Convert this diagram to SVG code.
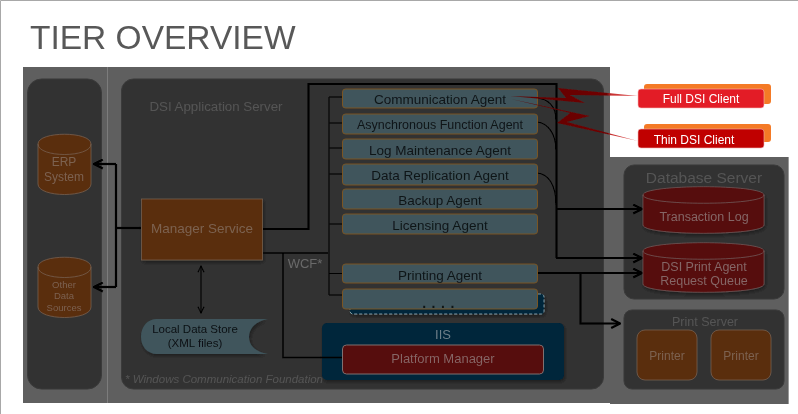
<svg xmlns="http://www.w3.org/2000/svg" width="798" height="414" viewBox="0 0 798 414">
<style>
text{font-family:"Liberation Sans",Arial,sans-serif;text-anchor:middle}
.panel{fill:#333333;stroke:#3a3a3a;stroke-width:1}
.agent{fill:#3f555c;stroke:#7a5424;stroke-width:1}
.agentT{font-size:13.5px;fill:#101518}
.brown{fill:#5a2d0e;stroke:#76604f;stroke-width:.8}
.dred{fill:#560808;stroke:#705858;stroke-width:.8}
.dim{fill:#555555}
.bt{fill:#7c6250}
.rt{fill:#856666}
.thick{fill:none;stroke:#000;stroke-width:2.2}
.thin{fill:none;stroke:#000;stroke-width:1.1}
</style>
<defs>
<marker id="ah" viewBox="0 0 10 10" refX="9" refY="5" markerWidth="5" markerHeight="5" orient="auto"><path d="M1 1L9 5L1 9" fill="none" stroke="#000" stroke-width="2"/></marker>
<marker id="as" viewBox="0 0 10 10" refX="9" refY="5" markerWidth="8" markerHeight="8" orient="auto-start-reverse"><path d="M2 1.5L9 5L2 8.500" fill="none" stroke="#000" stroke-width="1.2"/></marker>
<filter id="sh" x="-10%" y="-10%" width="125%" height="130%"><feDropShadow dx="1" dy="2" stdDeviation="2" flood-color="#000" flood-opacity=".45"/></filter>
<filter id="soft" x="0" y="0" width="100%" height="100%"><feGaussianBlur stdDeviation=".45"/></filter>
<linearGradient id="b1" x1="0" y1="0" x2="1" y2="0"><stop offset="0" stop-color="#5f0505"/><stop offset=".76" stop-color="#700505"/><stop offset=".79" stop-color="#c83030"/><stop offset="1" stop-color="#e06060"/></linearGradient>
</defs>
<g filter="url(#soft)">
<rect width="798" height="414" fill="#fff"/>
<path d="M0.500 414V0.500H798" fill="none" stroke="#a8a8a8"/>
<text x="30" y="49" style="text-anchor:start;font-size:33.500px;fill:#595959">TIER OVERVIEW</text>
<path d="M23 67H610V157H788V404H610V403H23Z" fill="#5e5e5e"/>
<path d="M788.500 157V404" stroke="#9a9a9a"/>
<path d="M107.500 67V403" stroke="#7c7c7c"/>
<g id="external-panel"><rect class="panel" x="27.500" y="79" width="74" height="310" rx="14"/></g>
<g id="app-server"><rect class="panel" x="121.500" y="79" width="482" height="310" rx="12"/>
<text x="216" y="111" class="dim" style="font-size:13.300px">DSI Application Server</text>
<text x="224" y="383" style="font-size:11.500px;font-style:italic;fill:#555555">* Windows Communication Foundation</text>
<text x="305" y="268" style="font-size:13px;fill:#6a6a6a">WCF*</text></g>
<g id="db-server"><rect class="panel" x="624" y="165" width="160" height="134" rx="10"/>
<text x="704" y="183" class="dim" style="font-size:15.500px">Database Server</text></g>
<g id="print-server"><rect class="panel" x="624" y="310" width="160" height="79" rx="8"/>
<text x="705" y="326" class="dim" style="font-size:12.500px">Print Server</text></g>
<g id="iis"><rect x="322" y="323" width="242" height="57" rx="5" fill="#00263a" filter="url(#sh)"/>
<text x="443" y="339" style="font-size:13px;fill:#6d7f89">IIS</text></g>
<g id="connectors">
<path class="thick" d="M141 228H116"/>
<path class="thick" d="M116 164V287"/>
<path class="thick" d="M116 164H94" marker-end="url(#ah)"/>
<path class="thick" d="M116 287H94" marker-end="url(#ah)"/>
<path class="thin" d="M201 266V313" marker-start="url(#as)" marker-end="url(#as)"/>
<path class="thick" d="M263 229H308.500V84H556.500V258"/>
<path class="thick" d="M556 209H642" marker-end="url(#ah)"/>
<path class="thick" d="M556 258H642" marker-end="url(#ah)"/>
<path class="thick" d="M537 273H642" marker-end="url(#ah)"/>
<path class="thick" d="M580.500 273V323.500H620" marker-end="url(#ah)"/>
<path class="thick" style="stroke-width:1.600" d="M263 253H328M283 253V357.500H342"/>
<path class="thin" d="M329 97V295M329 97H342M329 123H342M329 148H342M329 174H342M329 224H342M329 273.500H342M329 295H342"/>
<path class="thin" d="M537 98C548 99 556 106 556 120M537 122C548 123 556 134 556 150M537 173C548 174 556 184 556 205"/>
</g>
<g id="agent-more"><rect x="350" y="294" width="194" height="20" rx="3" fill="#00263a" stroke="#7f9aa5" stroke-dasharray="3 2" filter="url(#sh)"/></g>
<g id="agent-communication"><rect class="agent" x="342.500" y="89" width="195" height="19" rx="3"/><text class="agentT" x="440" y="104">Communication Agent</text></g>
<g id="agent-async"><rect class="agent" x="342.500" y="114" width="195" height="20" rx="3"/><text class="agentT" style="font-size:12.500px" x="440" y="129">Asynchronous Function Agent</text></g>
<g id="agent-log"><rect class="agent" x="342.500" y="139" width="195" height="20" rx="3"/><text class="agentT" x="440" y="155">Log Maintenance Agent</text></g>
<g id="agent-replication"><rect class="agent" x="342.500" y="164" width="195" height="21" rx="3"/><text class="agentT" x="440" y="180">Data Replication Agent</text></g>
<g id="agent-backup"><rect class="agent" x="342.500" y="189" width="195" height="20" rx="3"/><text class="agentT" x="440" y="205">Backup Agent</text></g>
<g id="agent-licensing"><rect class="agent" x="342.500" y="214" width="195" height="20" rx="3"/><text class="agentT" x="440" y="230">Licensing Agent</text></g>
<g id="agent-printing"><rect class="agent" x="342.500" y="264" width="195" height="19" rx="3"/><text class="agentT" x="440" y="280">Printing Agent</text></g>
<g id="agent-dots"><rect class="agent" x="342.500" y="289" width="195" height="20" rx="3"/><text class="agentT" style="font-size:14px;font-weight:bold;letter-spacing:5.500px" x="441" y="308">....</text></g>
<g id="platform-manager"><rect x="342.500" y="345" width="201" height="29" rx="4" fill="#560808" stroke="#7f7070"/><text x="443" y="363" class="rt" style="font-size:13px">Platform Manager</text></g>
<g id="manager-service"><rect class="brown" x="141.500" y="199" width="121" height="61" filter="url(#sh)"/><text x="202" y="233" class="bt" style="font-size:13.500px">Manager Service</text></g>
<g id="local-store"><path d="M157 319H268C256 321 249 328 249 337C249 346 256 352 268 354H157C147 354 141 346 141 337C141 327 147 319 157 319Z" fill="#3f555c" filter="url(#sh)"/>
<text x="195" y="333" style="font-size:11.500px;fill:#0c1114">Local Data Store</text><text x="195" y="347" style="font-size:11.500px;fill:#0c1114">(XML files)</text></g>
<g id="erp"><path class="brown" d="M38 144C38 131 91 131 91 144V184C91 198 38 198 38 184Z"/><path class="brown" style="fill:none" d="M38 144C38 158 91 158 91 144"/>
<text x="64" y="166" class="bt" style="font-size:12px">ERP</text><text x="64" y="181" class="bt" style="font-size:12px">System</text></g>
<g id="other-sources"><path class="brown" d="M38 267C38 254 91 254 91 267V307C91 321 38 321 38 307Z"/><path class="brown" style="fill:none" d="M38 267C38 281 91 281 91 267"/>
<text x="64" y="288" class="bt" style="font-size:9.500px">Other</text><text x="64" y="299" class="bt" style="font-size:9.500px">Data</text><text x="64" y="311" class="bt" style="font-size:9.500px">Sources</text></g>
<g id="transaction-log"><path class="dred" filter="url(#sh)" d="M643 195C643 184 764 184 764 195V225C764 236 643 236 643 225Z"/><path class="dred" style="fill:none" d="M643 195C643 206 764 206 764 195"/>
<text x="704" y="221" class="rt" style="font-size:12.500px">Transaction Log</text></g>
<g id="print-queue"><path class="dred" filter="url(#sh)" d="M643 251C643 240 764 240 764 251V284C764 295 643 295 643 284Z"/><path class="dred" style="fill:none" d="M643 251C643 262 764 262 764 251"/>
<text x="704" y="271" class="rt" style="font-size:12.500px">DSI Print Agent</text><text x="704" y="285" class="rt" style="font-size:12.500px">Request Queue</text></g>
<g id="printer-1"><rect class="brown" x="637" y="330" width="60" height="50" rx="8"/><text x="667" y="360" class="bt" style="font-size:12px">Printer</text></g>
<g id="printer-2"><rect class="brown" x="711" y="330" width="60" height="50" rx="8"/><text x="741" y="360" class="bt" style="font-size:12px">Printer</text></g>
<g id="bolts">
<path fill="url(#b1)" d="M510 96L585 103L570 95L638 96L558 88L566 98Z"/>
<path fill="url(#b1)" d="M511 99L590 116L567 122L638 141L557 123L570 113Z"/>
</g>
<g id="full-client"><rect x="644" y="84" width="127" height="20" rx="3" fill="#f47a25"/><rect x="638" y="89" width="126" height="19" rx="3" fill="#e31c25" stroke="#f6b5b5" stroke-width=".6"/><text x="701" y="103" style="font-size:12px;fill:#fff">Full DSI Client</text></g>
<g id="thin-client"><rect x="644" y="124" width="127" height="18" rx="3" fill="#f47a25"/><rect x="638" y="129" width="126" height="19" rx="3" fill="#c00000" stroke="#f0b0b0" stroke-width=".6"/><text x="694" y="144" style="font-size:12px;fill:#fff">Thin DSI Client</text></g>
</g>
</svg>
